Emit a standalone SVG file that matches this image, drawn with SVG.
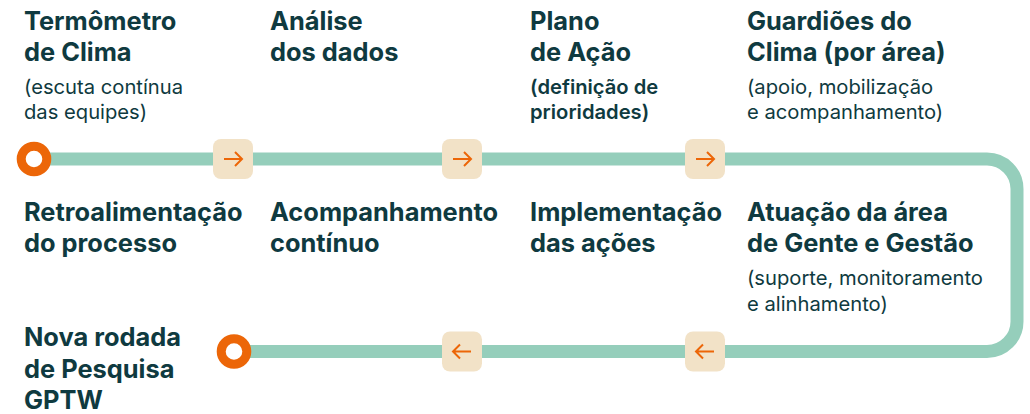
<svg xmlns="http://www.w3.org/2000/svg" width="1030" height="414" viewBox="0 0 1030 414">
<style>
.t{font-family:Inter,"Noto Sans","Liberation Sans",sans-serif;font-weight:700;font-size:25.4px;fill:#0F3A40}
.s{font-family:Inter,"Noto Sans","Liberation Sans",sans-serif;font-weight:400;font-size:20.2px;fill:#0F3A40}
.sb{font-weight:600}
.box{fill:#F2E2C7}
.arr{fill:none;stroke:#EC6608;stroke-width:2;stroke-linecap:butt;stroke-linejoin:miter}
.ring{fill:#fff;stroke:#EC6608;stroke-width:9}
</style>
<rect width="1030" height="414" fill="#fff"/>
<g id="connectors">
<path d="M34,159 H987 A30,30 0 0 1 1017,189 V321.5 A30,30 0 0 1 987,351.5 H234" fill="none" stroke="#95CEBB" stroke-width="13"/>
</g>
<g id="start"><circle class="ring" cx="34" cy="159" r="12.8"/></g>
<g id="end"><circle class="ring" cx="234" cy="351.5" r="12.8"/></g>
<g id="arrow1"><rect class="box" x="213" y="139" width="40" height="40" rx="8"/><path class="arr" d="M224,159 H242 M235,152 L242,159 L235,166"/></g>
<g id="arrow2"><rect class="box" x="442" y="139" width="40" height="40" rx="8"/><path class="arr" d="M453,159 H471 M464,152 L471,159 L464,166"/></g>
<g id="arrow3"><rect class="box" x="685" y="139" width="40" height="40" rx="8"/><path class="arr" d="M696,159 H714 M707,152 L714,159 L707,166"/></g>
<g id="arrow4"><rect class="box" x="685" y="331.5" width="40" height="40" rx="8"/><path class="arr" d="M714,351.5 H696 M703,344.5 L696,351.5 L703,358.5"/></g>
<g id="arrow5"><rect class="box" x="442" y="331.5" width="40" height="40" rx="8"/><path class="arr" d="M471,351.5 H453 M460,344.5 L453,351.5 L460,358.5"/></g>
<g id="termometro"><text class="t" x="24" y="30">Termômetro</text><text class="t" x="24" y="61">de Clima</text><text class="s" x="24" y="94">(escuta contínua</text><text class="s" x="24" y="119">das equipes)</text></g>
<g id="analise"><text class="t" x="270" y="30">Análise</text><text class="t" x="270" y="61">dos dados</text></g>
<g id="plano"><text class="t" x="530" y="30">Plano</text><text class="t" x="530" y="61">de Ação</text><text class="s sb" x="530" y="94">(definição de</text><text class="s sb" x="530" y="119">prioridades)</text></g>
<g id="guardioes"><text class="t" x="747" y="30">Guardiões do</text><text class="t" x="747" y="61">Clima (por área)</text><text class="s" x="747" y="94">(apoio, mobilização</text><text class="s" x="747" y="119">e acompanhamento)</text></g>
<g id="retro"><text class="t" x="24" y="221">Retroalimentação</text><text class="t" x="24" y="252">do processo</text></g>
<g id="acomp"><text class="t" x="270" y="221">Acompanhamento</text><text class="t" x="270" y="252">contínuo</text></g>
<g id="impl"><text class="t" x="530" y="221">Implementação</text><text class="t" x="530" y="252">das ações</text></g>
<g id="atuacao"><text class="t" x="747" y="221">Atuação da área</text><text class="t" x="747" y="252">de Gente e Gestão</text><text class="s" x="747" y="285">(suporte, monitoramento</text><text class="s" x="747" y="311">e alinhamento)</text></g>
<g id="nova"><text class="t" x="24" y="346">Nova rodada</text><text class="t" x="24" y="378">de Pesquisa</text><text class="t" x="24" y="409">GPTW</text></g>
</svg>
